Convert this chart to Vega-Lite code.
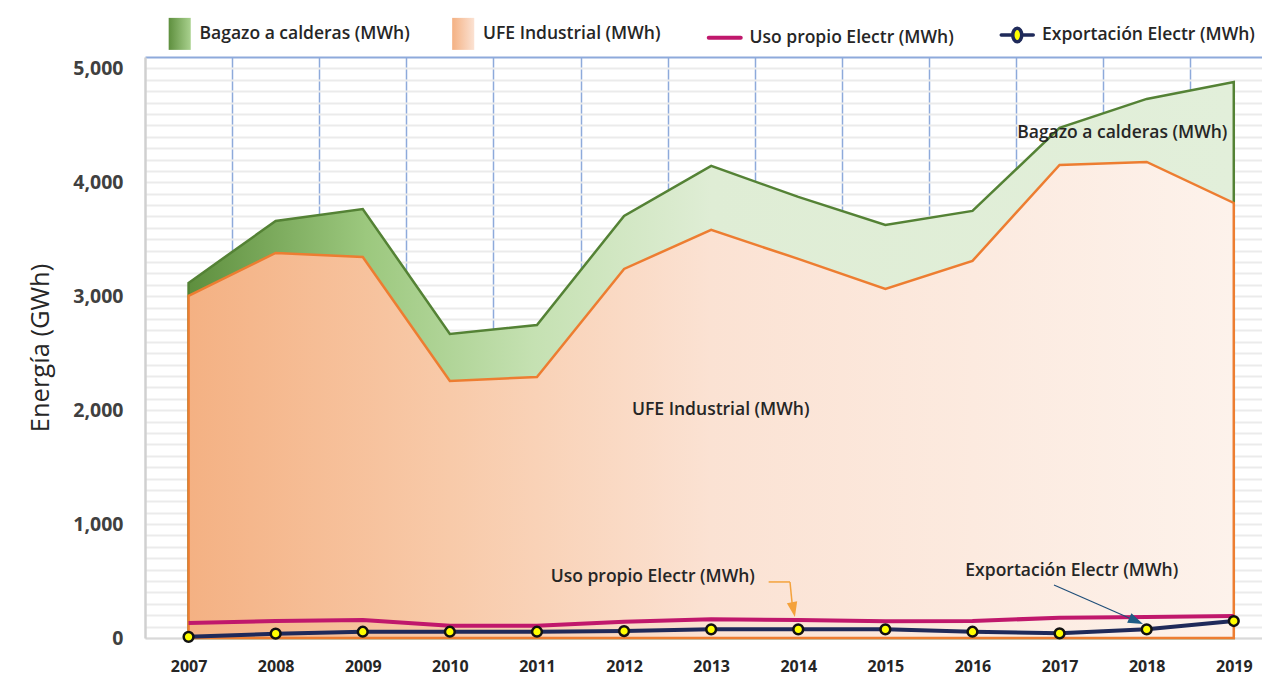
{
  "$schema": "https://vega.github.io/schema/vega-lite/v6.json",
  "width": 1117,
  "height": 581,
  "autosize": {"type": "none"},
  "padding": {"left": 145, "top": 57, "right": 0, "bottom": 37},
  "background": "white",
  "config": {"view": {"stroke": null}, "font": "Open Sans"},
  "datasets": {
    "series": [
      {"year": 2007, "series": "Bagazo a calderas (MWh)", "value": 3117},
      {"year": 2008, "series": "Bagazo a calderas (MWh)", "value": 3661},
      {"year": 2009, "series": "Bagazo a calderas (MWh)", "value": 3766},
      {"year": 2010, "series": "Bagazo a calderas (MWh)", "value": 2669},
      {"year": 2011, "series": "Bagazo a calderas (MWh)", "value": 2748},
      {"year": 2012, "series": "Bagazo a calderas (MWh)", "value": 3705},
      {"year": 2013, "series": "Bagazo a calderas (MWh)", "value": 4144},
      {"year": 2014, "series": "Bagazo a calderas (MWh)", "value": 3872},
      {"year": 2015, "series": "Bagazo a calderas (MWh)", "value": 3626},
      {"year": 2016, "series": "Bagazo a calderas (MWh)", "value": 3749},
      {"year": 2017, "series": "Bagazo a calderas (MWh)", "value": 4478},
      {"year": 2018, "series": "Bagazo a calderas (MWh)", "value": 4732},
      {"year": 2019, "series": "Bagazo a calderas (MWh)", "value": 4881},
      {"year": 2007, "series": "UFE Industrial (MWh)", "value": 3003},
      {"year": 2008, "series": "UFE Industrial (MWh)", "value": 3380},
      {"year": 2009, "series": "UFE Industrial (MWh)", "value": 3345},
      {"year": 2010, "series": "UFE Industrial (MWh)", "value": 2256},
      {"year": 2011, "series": "UFE Industrial (MWh)", "value": 2291},
      {"year": 2012, "series": "UFE Industrial (MWh)", "value": 3240},
      {"year": 2013, "series": "UFE Industrial (MWh)", "value": 3582},
      {"year": 2014, "series": "UFE Industrial (MWh)", "value": 3328},
      {"year": 2015, "series": "UFE Industrial (MWh)", "value": 3064},
      {"year": 2016, "series": "UFE Industrial (MWh)", "value": 3310},
      {"year": 2017, "series": "UFE Industrial (MWh)", "value": 4153},
      {"year": 2018, "series": "UFE Industrial (MWh)", "value": 4179},
      {"year": 2019, "series": "UFE Industrial (MWh)", "value": 3819},
      {"year": 2007, "series": "Uso propio Electr (MWh)", "value": 132},
      {"year": 2008, "series": "Uso propio Electr (MWh)", "value": 149},
      {"year": 2009, "series": "Uso propio Electr (MWh)", "value": 158},
      {"year": 2010, "series": "Uso propio Electr (MWh)", "value": 108},
      {"year": 2011, "series": "Uso propio Electr (MWh)", "value": 108},
      {"year": 2012, "series": "Uso propio Electr (MWh)", "value": 143},
      {"year": 2013, "series": "Uso propio Electr (MWh)", "value": 164},
      {"year": 2014, "series": "Uso propio Electr (MWh)", "value": 158},
      {"year": 2015, "series": "Uso propio Electr (MWh)", "value": 147},
      {"year": 2016, "series": "Uso propio Electr (MWh)", "value": 149},
      {"year": 2017, "series": "Uso propio Electr (MWh)", "value": 178},
      {"year": 2018, "series": "Uso propio Electr (MWh)", "value": 184},
      {"year": 2019, "series": "Uso propio Electr (MWh)", "value": 193},
      {"year": 2007, "series": "Exportación Electr (MWh)", "value": 10},
      {"year": 2008, "series": "Exportación Electr (MWh)", "value": 38},
      {"year": 2009, "series": "Exportación Electr (MWh)", "value": 55},
      {"year": 2010, "series": "Exportación Electr (MWh)", "value": 55},
      {"year": 2011, "series": "Exportación Electr (MWh)", "value": 55},
      {"year": 2012, "series": "Exportación Electr (MWh)", "value": 61},
      {"year": 2013, "series": "Exportación Electr (MWh)", "value": 76},
      {"year": 2014, "series": "Exportación Electr (MWh)", "value": 76},
      {"year": 2015, "series": "Exportación Electr (MWh)", "value": 76},
      {"year": 2016, "series": "Exportación Electr (MWh)", "value": 55},
      {"year": 2017, "series": "Exportación Electr (MWh)", "value": 41},
      {"year": 2018, "series": "Exportación Electr (MWh)", "value": 76},
      {"year": 2019, "series": "Exportación Electr (MWh)", "value": 149}
    ],
    "notes": [
      {"label": "Bagazo a calderas (MWh)", "year": 2017.72, "value": 4434},
      {"label": "UFE Industrial (MWh)", "year": 2013.11, "value": 2002},
      {"label": "Uso propio Electr (MWh)", "year": 2012.33, "value": 536},
      {"label": "Exportación Electr (MWh)", "year": 2017.14, "value": 588}
    ],
    "arrows": [
      {"arrow": "uso", "year": 2013.66, "value": 492, "year2": 2013.905, "value2": 492},
      {"arrow": "uso", "year": 2013.905, "value": 492, "year2": 2013.93, "value2": 300},
      {"arrow": "exp", "year": 2016.936, "value": 465, "year2": 2017.8, "value2": 176}
    ],
    "heads": [
      {"arrow": "uso", "year": 2013.945, "value": 250, "angle": 79},
      {"arrow": "exp", "year": 2017.879, "value": 149, "angle": 24}
    ]
  },
  "resolve": {"axis": {"x": "independent"}},
  "encoding": {
    "x": {"field": "year", "type": "quantitative", "scale": {"domain": [2006.5, 2019.324], "nice": false, "zero": false}, "axis": null},
    "y": {"field": "value", "type": "quantitative",
      "scale": {"domain": [0, 5100], "nice": false},
      "axis": {"values": [0, 100, 200, 300, 400, 500, 600, 700, 800, 900, 1000, 1100, 1200, 1300, 1400, 1500, 1600, 1700, 1800, 1900, 2000, 2100, 2200, 2300, 2400, 2500, 2600, 2700, 2800, 2900, 3000, 3100, 3200, 3300, 3400, 3500, 3600, 3700, 3800, 3900, 4000, 4100, 4200, 4300, 4400, 4500, 4600, 4700, 4800, 4900, 5000],
        "labelExpr": "datum.value % 1000 === 0 ? format(datum.value, ',') : ''",
        "labelOverlap": false,
        "grid": true, "gridColor": "#ebebeb", "gridWidth": 2,
        "ticks": false, "domain": true, "domainColor": "#d0d0d0", "domainWidth": 2.5,
        "labelFont": "Open Sans", "labelFontWeight": "bold", "labelFontSize": 19.5, "labelColor": "#404040", "labelPadding": 22,
        "title": "Energía (GWh)", "titleFont": "Open Sans", "titleFontSize": 25.5, "titleFontWeight": 500, "titleColor": "#262626", "titlePadding": 19}}
  },
  "layer": [
    {
      "data": {"name": "series"},
      "transform": [{"filter": "datum.series === 'Bagazo a calderas (MWh)'"}],
      "mark": {
        "type": "area",
        "fill": {"gradient": "linear", "x1": 0, "y1": 0, "x2": 1, "y2": 0,
          "stops": [
            {"offset": 0, "color": "#5e8f3e"},
            {"offset": 0.17, "color": "#9cc87e"},
            {"offset": 0.33, "color": "#c5e1b2"},
            {"offset": 0.5, "color": "#dfedd5"},
            {"offset": 1, "color": "#e2efda"}
          ]},
        "stroke": "#548235",
        "strokeWidth": 2.5,
        "fillOpacity": 1
      },
      "encoding": {
        "x": {"field": "year", "type": "quantitative",
          "scale": {"domain": [2006.5, 2019.324], "nice": false, "zero": false},
          "axis": {"orient": "top", "values": [2007.5, 2008.5, 2009.5, 2010.5, 2011.5, 2012.5, 2013.5, 2014.5, 2015.5, 2016.5, 2017.5, 2018.5],
            "grid": true, "gridColor": "#8eaadb", "gridWidth": 1.5, "labels": false, "ticks": false,
            "domain": true, "domainColor": "#8eaadb", "domainWidth": 2, "title": null}}
      }
    },
    {
      "data": {"name": "series"},
      "transform": [{"filter": "datum.series === 'UFE Industrial (MWh)'"}],
      "mark": {
        "type": "area",
        "fill": {"gradient": "linear", "x1": 0, "y1": 0, "x2": 1, "y2": 0,
          "stops": [
            {"offset": 0, "color": "#f4b183"},
            {"offset": 0.25, "color": "#f8caa9"},
            {"offset": 0.5, "color": "#fbe2d3"},
            {"offset": 1, "color": "#fdf2eb"}
          ]},
        "stroke": "#ed7d31",
        "strokeWidth": 2.5,
        "fillOpacity": 1
      }
    },
    {
      "data": {"name": "series"},
      "transform": [{"filter": "datum.series === 'Uso propio Electr (MWh)' || datum.series === 'Exportación Electr (MWh)'"}],
      "mark": {"type": "line", "strokeWidth": 4, "strokeJoin": "round"},
      "encoding": {
        "x": {"field": "year", "type": "quantitative",
          "scale": {"domain": [2006.5, 2019.324], "nice": false, "zero": false},
          "axis": {"orient": "bottom", "values": [2007, 2008, 2009, 2010, 2011, 2012, 2013, 2014, 2015, 2016, 2017, 2018, 2019],
            "format": "d", "grid": false, "ticks": false, "domain": true, "domainColor": "#d9d9d9", "domainWidth": 2,
            "labelFont": "Open Sans", "labelFontWeight": "bold", "labelFontSize": 16, "labelColor": "#262626", "labelPadding": 20, "title": null}},
        "color": {"field": "series", "type": "nominal",
          "scale": {"domain": ["Bagazo a calderas (MWh)", "UFE Industrial (MWh)", "Uso propio Electr (MWh)", "Exportación Electr (MWh)"],
            "range": ["#70ad47", "#f4b183", "#c0186c", "#1f2a5a"]},
          "legend": {
            "title": null, "orient": "none", "direction": "horizontal", "columns": 4,
            "legendX": 21, "legendY": -32, "padding": 0,
            "symbolSize": 1024, "labelFont": "Open Sans", "labelFontSize": 17.5, "labelFontWeight": 600,
            "labelColor": "#262626", "labelOffset": 16, "columnPadding": 39.5, "labelLimit": 320,
            "encode": {
              "symbols": {
                "update": {
                  "shape": {"signal": "datum.value === 'Uso propio Electr (MWh)' ? 'M-1,0L1,0' : (datum.value === 'Exportación Electr (MWh)' ? 'M-1,0L-0.3,0M0.3,0L1,0M0.28,0A0.28,0.42 0 1,1 -0.28,0A0.28,0.42 0 1,1 0.28,0Z' : 'M-0.38,-1L1,-1L1,1L-0.38,1Z')"},
                  "fill": {"signal": "datum.value === 'Bagazo a calderas (MWh)' ? {gradient: 'linear', x1: 0, y1: 0, x2: 1, y2: 0, stops: [{offset: 0, color: '#5e8f3e'}, {offset: 1, color: '#a9d18e'}]} : (datum.value === 'UFE Industrial (MWh)' ? {gradient: 'linear', x1: 0, y1: 0, x2: 1, y2: 0, stops: [{offset: 0, color: '#f4b183'}, {offset: 1, color: '#fbe2d3'}]} : (datum.value === 'Exportación Electr (MWh)' ? '#ffff00' : 'transparent'))"},
                  "stroke": {"signal": "datum.value === 'Uso propio Electr (MWh)' ? '#c0186c' : (datum.value === 'Exportación Electr (MWh)' ? '#1f2a5a' : 'transparent')"},
                  "strokeWidth": {"signal": "datum.value === 'Uso propio Electr (MWh)' ? 4 : (datum.value === 'Exportación Electr (MWh)' ? 3.5 : 0)"},
                  "strokeCap": {"value": "round"},
                  "opacity": {"value": 1},
                  "fillOpacity": {"value": 1}
                }
              }
            }
          }}
      }
    },
    {
      "data": {"name": "series"},
      "transform": [{"filter": "datum.series === 'Exportación Electr (MWh)'"}],
      "mark": {"type": "point", "filled": true, "fill": "#ffff00", "stroke": "#111111", "strokeWidth": 2.5, "size": 95, "opacity": 1}
    },
    {
      "data": {"name": "arrows"},
      "mark": {"type": "rule"},
      "encoding": {
        "x2": {"field": "year2"},
        "y2": {"field": "value2"},
        "stroke": {"field": "arrow", "type": "nominal", "scale": {"domain": ["uso", "exp"], "range": ["#f4a23c", "#1f4e79"]}, "legend": null},
        "strokeWidth": {"field": "arrow", "type": "nominal", "scale": {"domain": ["uso", "exp"], "range": [1.5, 1.2]}, "legend": null}
      }
    },
    {
      "data": {"name": "heads"},
      "mark": {"type": "point", "shape": "M1,0L-1,-0.7L-1,0.7Z", "filled": true, "size": 225, "opacity": 1},
      "encoding": {
        "angle": {"field": "angle", "type": "quantitative", "scale": null},
        "fill": {"field": "arrow", "type": "nominal", "scale": {"domain": ["uso", "exp"], "range": ["#f4a23c", "#1f5c85"]}, "legend": null}
      }
    },
    {
      "data": {"name": "notes"},
      "mark": {"type": "text", "font": "Open Sans", "fontSize": 17.5, "fontWeight": 600, "color": "#262626"},
      "encoding": {
        "text": {"field": "label"}
      }
    }
  ]
}
